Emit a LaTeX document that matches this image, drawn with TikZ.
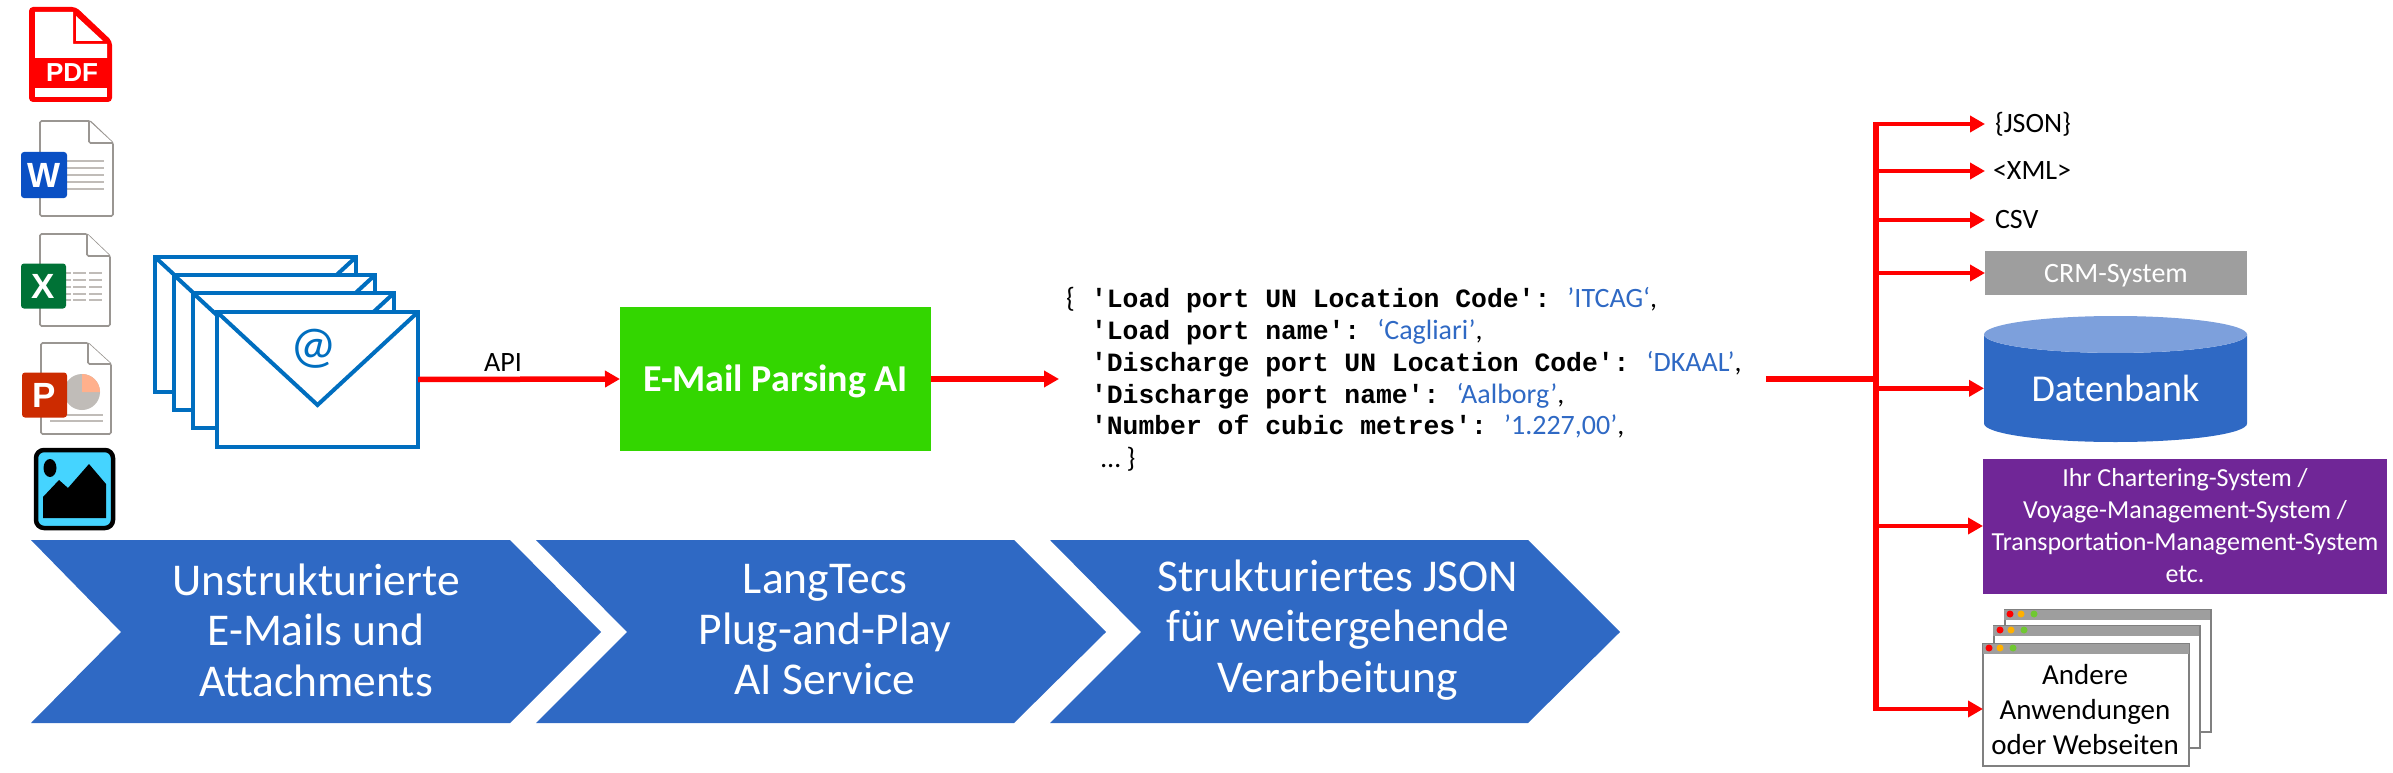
\documentclass[tikz,border=0pt]{standalone}
\usepackage{fontspec}
\setmainfont{Carlito}
\setsansfont{Liberation Sans}
\setmonofont{Liberation Mono}
\usepackage{tikz}
\usetikzlibrary{positioning}
\usetikzlibrary{calc}
\usetikzlibrary{arrows.meta}
\usetikzlibrary{shapes.geometric}

\definecolor{redarr}{HTML}{FF0000}
\definecolor{mailblue}{HTML}{006EBF}
\definecolor{chevblue}{HTML}{2F69C4}
\definecolor{topblue}{HTML}{7DA0DC}
\definecolor{aigreen}{HTML}{33D600}
\definecolor{sysgray}{HTML}{9E9E9E}
\definecolor{syspurple}{HTML}{702697}
\definecolor{docgray}{HTML}{9A9692}
\definecolor{docline}{HTML}{C0BCB8}
\definecolor{imgblue}{HTML}{45D4FF}
\definecolor{wordblue}{HTML}{0A50C4}
\definecolor{excelgreen}{HTML}{007236}
\definecolor{pptred}{HTML}{CC2B00}
\definecolor{piepeach}{HTML}{FFB08C}
\definecolor{dotorange}{HTML}{FFB000}
\definecolor{dotgreen}{HTML}{70C832}

\tikzset{
    every node/.style={outer sep=0pt},
    redline/.style={draw=redarr, line width=5.5pt},
    redarrow/.style={redline, -{Triangle[length=15pt,width=16pt]}},
    busarrow/.style={draw=redarr, line width=4.5pt, -{Triangle[length=15pt,width=16pt]}},
    mailbox/.style={draw=mailblue, fill=white, line width=4pt, anchor=north west, minimum width=201pt, minimum height=135pt},
    mailflap/.style={draw=mailblue, line width=4pt, miter limit=2},
    chevron/.style={fill=chevblue},
    chevtext/.style={text=white, align=center, font=\fontsize{45.5}{50.5}\selectfont},
    fmttext/.style={anchor=west, inner xsep=10pt, inner ysep=0pt, font=\fontsize{28}{34}\selectfont},
    docpage/.style={draw=docgray, fill=white, line width=1.6pt, rounded corners=1.5pt},
    docrule/.style={draw=docline, line width=1.6pt},
    appbadge/.style={text=white, rounded corners=3pt, minimum width=45pt, minimum height=45pt, inner sep=0pt, font=\sffamily\bfseries\fontsize{35}{35}\selectfont},
    windowbox/.style={draw=gray, fill=white, line width=1.3pt, anchor=north west, minimum width=206pt, minimum height=122pt},
    windowbar/.style={fill=sysgray},
    jsonline/.style={anchor=west, inner sep=0pt, text height=20pt, text depth=6pt, font=\fontsize{28}{32}\selectfont},
}
\newcommand{\jkey}[1]{{\ttfamily\bfseries\fontsize{26.4}{32}\selectfont #1}\hspace{17pt}}
\newcommand{\jval}[1]{\textcolor{chevblue}{#1}}

\begin{document}
\begin{tikzpicture}[x=1pt,y=-1pt]
    \useasboundingbox (0,0) rectangle (2393,773);

    % pdf icon
    \fill[redarr, rounded corners=4pt] (29,7) -- (76,7) -- (112,41) -- (112,102) -- (29,102) -- cycle;
    \fill[white] (35,12) -- (73,12) -- (73,44) -- (107,44) -- (107,58) -- (35,58) -- cycle;
    \fill[white] (76,16) -- (103,41) -- (76,41) -- cycle;
    \fill[white] (35,88) rectangle (107,97);
    \node[text=white, inner sep=0pt, font=\sffamily\bfseries\fontsize{26}{26}\selectfont] (pdflabel) at (72,73) {PDF};

    % word icon
    \draw[docpage] (40,121) -- (90,121) -- (113,143) -- (113,216) -- (40,216) -- cycle;
    \draw[docpage] (89,121) -- (89,143) -- (113,143);
    \foreach \y in {161,168,175,182,189}
        \draw[docrule] (67,\y) -- (104,\y);
    \node[appbadge, fill=wordblue, minimum height=46pt, minimum width=46pt] (wordbadge) at (44,175) {W};

    % excel icon
    \draw[docpage] (40,234) -- (87,234) -- (110,256) -- (110,326) -- (40,326) -- cycle;
    \draw[docpage] (87,234) -- (87,256) -- (110,256);
    \foreach \y in {273,280,287,294,300} {
        \draw[docrule] (66,\y) -- (71,\y);
        \draw[docrule] (73,\y) -- (86,\y);
        \draw[docrule] (89,\y) -- (102,\y);
    }
    \node[appbadge, fill=excelgreen] (excelbadge) at (43.5,286) {X};

    % powerpoint icon
    \draw[docpage] (41,343) -- (88,343) -- (111,364) -- (111,434) -- (41,434) -- cycle;
    \draw[docpage] (88,343) -- (88,364) -- (111,364);
    \fill[docline] (82,392) circle (18);
    \fill[piepeach] (82,392) -- (82,374) arc[start angle=-90, end angle=0, radius=18] -- cycle;
    \draw[docrule] (50,415) -- (103,415);
    \draw[docrule] (50,421) -- (103,421);
    \node[appbadge, fill=pptred] (pptbadge) at (44.5,395) {P};

    % image icon
    \draw[draw=black, fill=imgblue, line width=4.5pt, rounded corners=8pt] (36,450) rectangle (113,528);
    \fill[black] (43,497) -- (59,480) -- (68,488) -- (89,464) -- (106,484) -- (106,518) -- (43,518) -- cycle;
    \fill[black] (50,468) ellipse (6.5 and 9);

    % envelopes
    \foreach \i/\x/\y in {1/155/257, 2/174/275, 3/193/293, 4/217/312} {
        \node[mailbox] (mail\i) at (\x,\y) {};
        \draw[mailflap] (mail\i.north west) -- ($(mail\i.north)+(0,93)$) -- (mail\i.north east);
    }
    \node[text=mailblue, inner sep=0pt, font=\fontsize{52}{52}\selectfont] (mailat) at (314,349) {@};

    % middle
    \node[fill=aigreen, text=white, minimum width=311pt, minimum height=144pt, inner sep=0pt, text height=24.5pt, text depth=0pt, font=\bfseries\fontsize{38}{40}\selectfont] (aibox) at (775.5,379) {E-Mail Parsing AI};
    \node[inner sep=0pt, text=black, font=\fontsize{28}{34}\selectfont] (apilabel) at (503,363) {API};
    \draw[redarrow] (mail4.east) -- (aibox.west);

    \coordinate (jsonin) at (1059,379);
    \coordinate (jsonout) at (1766,379);
    \draw[redarrow] (aibox.east) -- (jsonin);

    % json lines
    \node[jsonline] (jsonopen) at (1066,300) {\{};
    \node[jsonline] (jsonline1) at (1091,300) {\jkey{'Load port UN Location Code':}\jval{’ITCAG‘},};
    \node[jsonline] (jsonline2) at (1091,332) {\jkey{'Load port name':}\jval{‘Cagliari’},};
    \node[jsonline] (jsonline3) at (1091,364) {\jkey{'Discharge port UN Location Code':}\jval{‘DKAAL’},};
    \node[jsonline] (jsonline4) at (1091,396) {\jkey{'Discharge port name':}\jval{‘Aalborg’},};
    \node[jsonline] (jsonline5) at (1091,427) {\jkey{'Number of cubic metres':}\jval{’1.227,00’},};
    \node[jsonline] (jsonclose) at (1101,460) {… \}};

    % chevrons
    \fill[chevron] (31,540) -- (510,540) -- (601,632) -- (510,723) -- (31,723) -- (121,632) -- cycle;
    \fill[chevron] (536,540) -- (1014,540) -- (1106,632) -- (1014,723) -- (536,723) -- (627,632) -- cycle;
    \fill[chevron] (1050,540) -- (1528,540) -- (1620,632) -- (1528,723) -- (1050,723) -- (1141,632) -- cycle;
    \node[chevtext] (chevinput) at (316,630) {Unstrukturierte\\E-Mails und\\Attachments};
    \node[chevtext] (chevservice) at (825,630) {LangTecs\\Plug-and-Play\\AI Service};
    \node[chevtext] (chevoutput) at (1338,630) {Strukturiertes JSON\\für weitergehende\\Verarbeitung};

    % targets
    \node[fmttext] (jsonfmt) at (1985,124) {\{JSON\}};
    \node[fmttext, inner xsep=8pt] (xmlfmt) at (1985,171) {<XML>};
    \node[fmttext] (csvfmt) at (1985,220) {CSV};
    \node[fill=sysgray, text=white, minimum width=262pt, minimum height=44pt, inner sep=0pt, text height=18pt, text depth=0pt, font=\fontsize{28}{34}\selectfont] (crm) at (2116,273) {CRM-System};
    \node[cylinder, shape border rotate=90, aspect=0.22, cylinder uses custom fill, cylinder body fill=chevblue, cylinder end fill=topblue, minimum width=263pt, minimum height=126pt, inner sep=0pt, anchor=shape center, text=white, font=\fontsize{38}{46}\selectfont] (db) at (2115.5,379) {Datenbank};
    \node[fill=syspurple, text=white, align=center, minimum width=404pt, minimum height=135pt, inner sep=0pt, font=\fontsize{26}{32}\selectfont] (chartering) at (2185,526) {Ihr Chartering-System /\\Voyage-Management-System /\\Transportation-Management-System\\etc.};

    % stacked windows
    \node[windowbox, minimum height=122pt] (windowback) at (2005,610) {};
    \fill[windowbar] (2004,610) rectangle (2210,620);
    \foreach \x/\c in {2010/red,2021/dotorange,2034/dotgreen}
        \fill[\c] (\x,614) circle (3.5);
    \node[windowbox] (windowmid) at (1994,626) {};
    \fill[windowbar] (1993,626) rectangle (2199,636);
    \foreach \x/\c in {2000/red,2011/dotorange,2024/dotgreen}
        \fill[\c] (\x,630) circle (3.5);
    \node[windowbox, minimum height=122pt, anchor=north west, inner sep=0pt] (apps) at (1983,644) {};
    \node[align=center, inner sep=0pt, font=\fontsize{29}{35}\selectfont] (appstext) at (2085,710) {Andere\\Anwendungen\\oder Webseiten};
    \fill[windowbar] (1983,644) rectangle (2189,654);
    \foreach \x/\c in {1989/red,2000/dotorange,2013/dotgreen}
        \fill[\c] (\x,648) circle (3.5);

    % red bus
    \coordinate (bustop) at (1876,124);
    \coordinate (busmid) at (1876,379);
    \coordinate (busbot) at (1876,709);
    \draw[redline] (jsonout) -- (busmid);
    \draw[redline] (bustop) -- (busbot);
    \draw[busarrow] ($(bustop)+(-2.75,0)$) -- (jsonfmt.west);
    \draw[busarrow] ($(busbot)+(-2.75,0)$) -- (busbot -| apps.west);
    \foreach \target in {xmlfmt, csvfmt, crm, db, chartering}
        \draw[busarrow] (bustop |- \target.west) -- (\target.west);
\end{tikzpicture}
\end{document}
